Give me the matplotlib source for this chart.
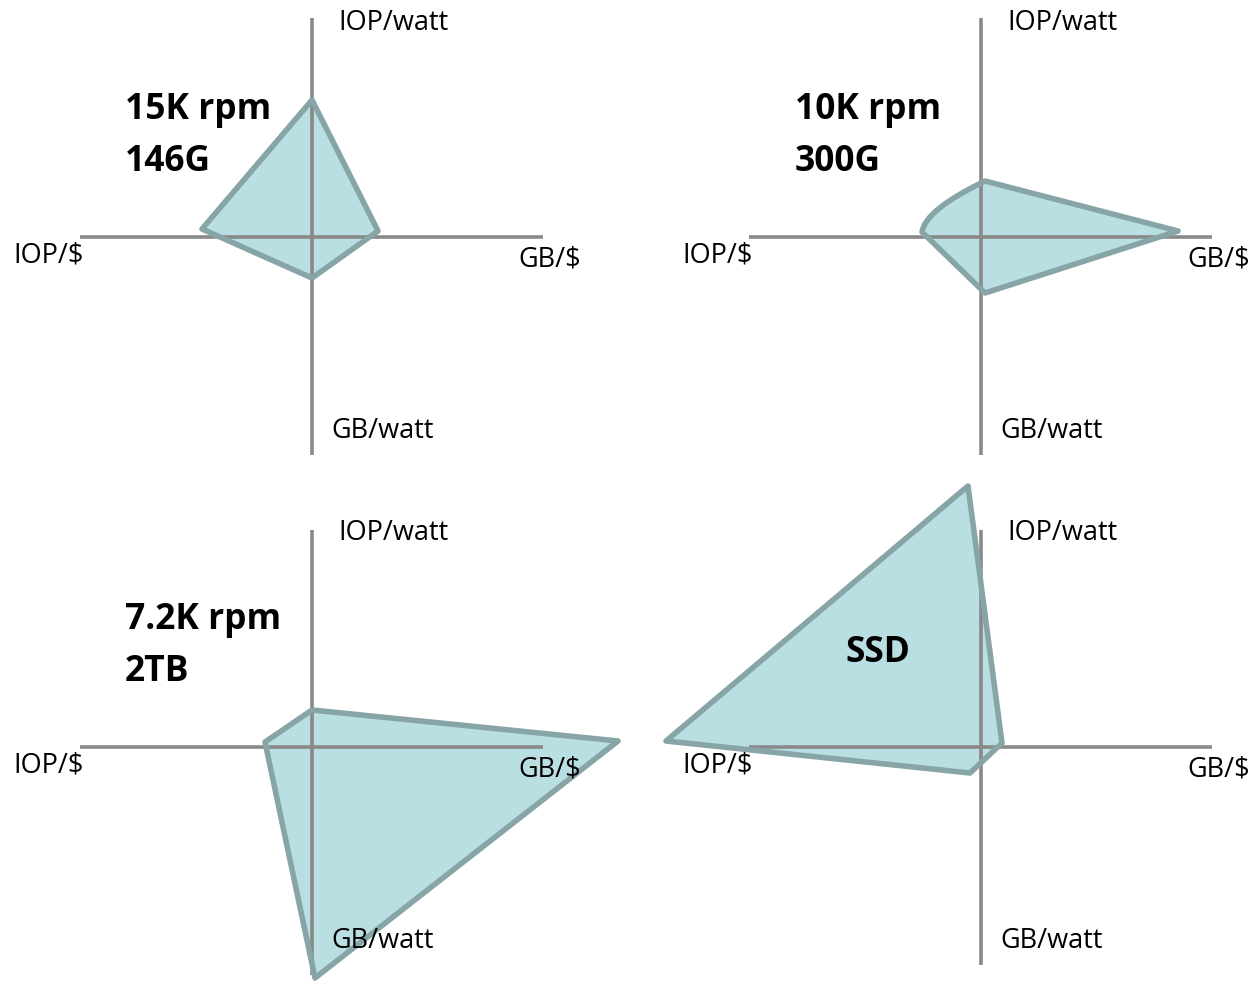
import matplotlib.pyplot as plt
from matplotlib.path import Path
from matplotlib.patches import PathPatch

plt.rcParams['font.family'] = ['Open Sans', 'DejaVu Sans']

# spoke labels, clockwise from the top
spokes = ["IOP/watt", "GB/$", "GB/watt", "IOP/$"]

# drive names
drives = ["15K rpm\n146G", "10K rpm\n300G", "7.2K rpm\n2TB", "SSD"]

# polygon corners per drive (x, y) relative to the cross, order: top, right, bottom, left
hdd15k = [(0, 137), (66, 6), (0, -41), (-110, 8)]
hdd10k = [(4, 56), (197, 6), (4, -56), (-59, 5)]
hdd72k = [(0, 37), (306, 6), (3, -231), (-47, 5)]
ssd = [(-13, 261), (21, 4), (-11, -26), (-315, 6)]
shapes = [hdd15k, hdd10k, hdd72k, ssd]

# the 10K drive has a rounded edge from the top corner into the left one
curve_ctrl_10k = (-56, 27)

# layout (pixels)
W, H = 1255, 981
centers = [(312, 237), (981, 237), (312, 747), (981, 747)]
title_pos = [(125, 136, 'left'), (795, 136, 'left'), (125, 646, 'left'), (878, 653, 'center')]

FILL = '#b9dfe2'
EDGE = '#87a5a7'
AXIS = '#898989'

fig = plt.figure(figsize=(W / 100, H / 100), dpi=100)
ax = fig.add_axes([0, 0, 1, 1])
ax.set_xlim(0, W)
ax.set_ylim(H, 0)
ax.axis('off')


def to_px(c, pt):
    return (c[0] + pt[0], c[1] - pt[1])


for i, (c, pts) in enumerate(zip(centers, shapes)):
    cx, cy = c
    verts = [to_px(c, p) for p in pts]
    if i == 1:
        # top -> right -> bottom -> left, then curve back to top
        path = Path([verts[0], verts[1], verts[2], verts[3],
                     to_px(c, curve_ctrl_10k), verts[0], verts[0]],
                    [Path.MOVETO, Path.LINETO, Path.LINETO, Path.LINETO,
                     Path.CURVE3, Path.CURVE3, Path.CLOSEPOLY])
    else:
        path = Path(verts + [verts[0]],
                    [Path.MOVETO] + [Path.LINETO] * 3 + [Path.CLOSEPOLY])

    ax.add_patch(PathPatch(path, facecolor=FILL, edgecolor='none', zorder=1))

    # cross axes
    top = 18 if cy < 500 else 530
    bottom = 455 if cy < 500 else (975 if cx < 500 else 965)
    ax.plot([cx, cx], [top, bottom], color=AXIS, lw=2.6, zorder=2,
            solid_capstyle='butt')
    ax.plot([cx - 232, cx + 231], [cy, cy], color=AXIS, lw=2.6, zorder=2,
            solid_capstyle='butt')

    ax.add_patch(PathPatch(path, facecolor='none', edgecolor=EDGE, lw=4,
                           joinstyle='round', zorder=3))

    # spoke labels
    fs = 19.5
    ax.text(cx + 26, cy - 214, spokes[0], fontsize=fs, va='center', ha='left', zorder=4)
    ax.text(cx + 206, cy + 22, spokes[1], fontsize=fs, va='center', ha='left', zorder=4)
    ax.text(cx + 19, cy + 194, spokes[2], fontsize=fs, va='center', ha='left', zorder=4)
    ax.text(cx - 299, cy + 19, spokes[3], fontsize=fs, va='center', ha='left', zorder=4)

    tx, ty, ha = title_pos[i]
    ax.text(tx, ty, drives[i], fontsize=25.5, fontweight='bold', va='center',
            ha=ha, linespacing=1.56, zorder=4)

fig.savefig('out.png', dpi=100)
